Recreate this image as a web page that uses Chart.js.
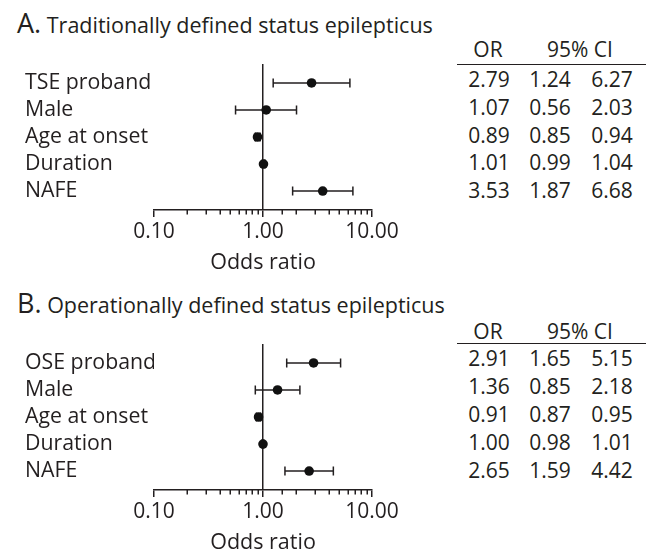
<!DOCTYPE html>
<html><head><meta charset="utf-8">
<script src="https://cdn.jsdelivr.net/npm/chart.js@4"></script>
<style>
body{margin:0;background:#fff;}
#wrap{position:relative;width:650px;height:555px;background:#fff;font-family:"Open Sans",sans-serif;color:#231f20;overflow:hidden;}
.t{position:absolute;white-space:nowrap;line-height:1;}
.c{position:absolute;width:70px;text-align:center;font-size:21px;line-height:21px;white-space:nowrap;}
.rule{position:absolute;height:0;border-top:1.5px solid #231f20;}
canvas{position:absolute;left:0;}
</style></head><body><div id="wrap">
<div class="t" id="titleA" style="left:17px;top:9px;font-size:21.5px;"><span style="font-size:27px">A.</span> Traditionally defined status epilepticus</div>
<div class="t" id="titleB" style="left:17px;top:289px;font-size:21.5px;"><span style="font-size:27px">B.</span> Operationally defined status epilepticus</div>
<canvas id="cA" width="450" height="277" style="top:0px"></canvas>
<canvas id="cB" width="450" height="277" style="top:280px"></canvas>
</div>
<script>
// ---- data ----
const labelsA = ['TSE proband', 'Male', 'Age at onset', 'Duration', 'NAFE'];
const orA = [2.79, 1.07, 0.89, 1.01, 3.53];
const loA = [1.24, 0.56, 0.85, 0.99, 1.87];
const hiA = [6.27, 2.03, 0.94, 1.04, 6.68];

const labelsB = ['OSE proband', 'Male', 'Age at onset', 'Duration', 'NAFE'];
const orB = [2.91, 1.36, 0.91, 1.00, 2.65];
const loB = [1.65, 0.85, 0.87, 0.98, 1.59];
const hiB = [5.15, 2.18, 0.95, 1.01, 4.42];

const labeledTicks = [0.1, 1, 10];
const xTitle = 'Odds ratio';
const tableHeaders = ['OR', '95% CI'];

const INK = '#231f20';
const FONT = '"Open Sans", sans-serif';

function isMajor(v) { return labeledTicks.some(t => Math.abs(v - t) < 1e-9); }
function isOne(v) { return Math.abs(v - 1) < 1e-9; }

const errorBars = {
  id: 'errorBars',
  beforeDatasetsDraw(chart) {
    const ds = chart.data.datasets[0];
    const x = chart.scales.x, y = chart.scales.y, ctx = chart.ctx;
    ctx.save();
    ctx.strokeStyle = INK;
    ctx.lineWidth = 1.5;
    ds.lo.forEach((l, i) => {
      const x1 = x.getPixelForValue(l), x2 = x.getPixelForValue(ds.hi[i]), yy = y.getPixelForValue(i);
      ctx.beginPath();
      ctx.moveTo(x1, yy); ctx.lineTo(x2, yy);
      ctx.moveTo(x1, yy - 4.5); ctx.lineTo(x1, yy + 4.5);
      ctx.moveTo(x2, yy - 4.5); ctx.lineTo(x2, yy + 4.5);
      ctx.stroke();
    });
    ctx.restore();
  },
  afterDraw(chart) {
    // shorter minor tick marks below the axis line
    const x = chart.scales.x, ctx = chart.ctx;
    ctx.save();
    ctx.strokeStyle = INK;
    ctx.lineWidth = 1.5;
    ctx.beginPath();
    x.ticks.forEach(t => {
      if (isMajor(t.value)) return;
      const px = Math.round(x.getPixelForValue(t.value)) + 0.25;
      ctx.moveTo(px, x.top); ctx.lineTo(px, x.top + 4.5);
    });
    ctx.stroke();
    ctx.restore();
  }
};

function makeChart(id, labels, or, lo, hi) {
  return new Chart(document.getElementById(id), {
    type: 'scatter',
    data: {
      datasets: [{
        data: or.map((v, i) => ({x: v, y: i})),
        lo: lo, hi: hi,
        pointRadius: 4.8,
        pointHoverRadius: 4.8,
        backgroundColor: '#111',
        borderWidth: 0
      }]
    },
    options: {
      responsive: false,
      animation: false,
      events: [],
      layout: {padding: {left: 25, top: 64, right: 78, bottom: 0}},
      plugins: {legend: {display: false}, tooltip: {enabled: false}},
      scales: {
        x: {
          type: 'logarithmic',
          position: 'bottom',
          min: 0.1, max: 10,
          afterFit: s => { s.height = 67; },
          ticks: {
            autoSkip: false, maxRotation: 0, minRotation: 0,
            font: {family: FONT, size: 21}, color: INK, padding: 2,
            callback: v => isMajor(v) ? Number(v).toFixed(2) : ''
          },
          grid: {
            drawOnChartArea: true,
            color: c => (c.tick && isOne(c.tick.value)) ? INK : 'rgba(0,0,0,0)',
            lineWidth: 1.5,
            tickColor: c => (c.tick && isMajor(c.tick.value)) ? INK : 'rgba(0,0,0,0)',
            tickWidth: 1.5,
            tickLength: 7
          },
          border: {display: true, color: INK, width: 1.5},
          title: {display: true, text: xTitle, font: {family: FONT, size: 21.5}, color: INK, padding: {top: 4, bottom: 1}}
        },
        y: {
          type: 'linear',
          reverse: true,
          min: -0.7, max: 4.7,
          afterBuildTicks: s => { s.ticks = labels.map((_, i) => ({value: i})); },
          afterFit: s => { s.width = 129; },
          ticks: {
            autoSkip: false,
            crossAlign: 'far',
            padding: 0,
            font: {family: FONT, size: 21.3}, color: INK,
            callback: v => labels[v]
          },
          grid: {display: false},
          border: {display: false}
        }
      }
    },
    plugins: [errorBars]
  });
}

makeChart('cA', labelsA, orA, loA, hiA);
makeChart('cB', labelsB, orB, loB, hiB);

// ---- tables ----
const wrap = document.getElementById('wrap');
function addText(txt, cx, cy) {
  const d = document.createElement('div');
  d.className = 'c';
  d.textContent = txt;
  d.style.left = (cx - 35) + 'px';
  d.style.top = (cy - 11) + 'px';
  wrap.appendChild(d);
}
function makeTable(or, lo, hi, headerY, ruleY, firstRowY, step) {
  addText(tableHeaders[0], 488, headerY);
  addText(tableHeaders[1], 580, headerY);
  const r = document.createElement('div');
  r.className = 'rule';
  r.style.left = '457px'; r.style.width = '189px'; r.style.top = ruleY + 'px';
  wrap.appendChild(r);
  or.forEach((v, i) => {
    const y = firstRowY + i * step;
    addText(v.toFixed(2), 489, y);
    addText(lo[i].toFixed(2), 550, y);
    addText(hi[i].toFixed(2), 612, y);
  });
}
makeTable(orA, loA, hiA, 50, 64, 80, 27.8);
makeTable(orB, loB, hiB, 332, 343, 359, 28);
</script>
</body></html>
